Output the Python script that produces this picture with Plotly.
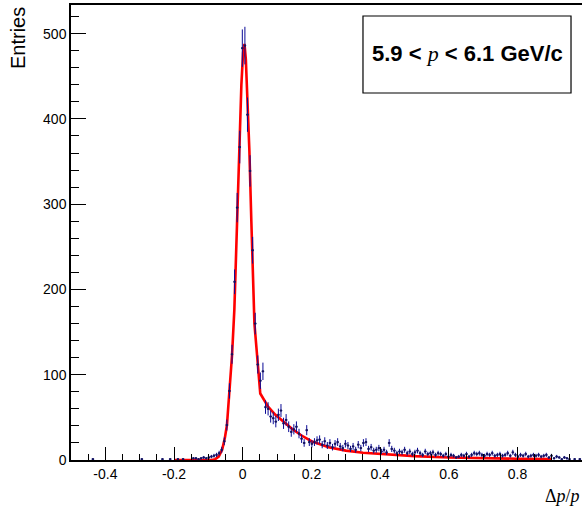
import math
import plotly.graph_objects as go

# Histogram: 200 bins from -0.5 to 1.0
hist_lo = -0.5
hist_hi = 1.0
n_bins = 200

counts_left = [0,0,0,0,0,0,0,0,1,0, 0,0,0,0,0,0,0,0,0,0,
               0,0,0,0,0,0,0,1,0,0, 0,0,0,0,0,1,0,0,1,0,
               0,1,0,1,0,0,0,2,2,1, 2,3,2]
counts_core = [3,4,5,6,8,12,22,41,81,124,
               209,296,367,483,486,405,339,246,160,112,
               93,104,62,60,51,49,45,53,58,43,
               47,39,33,36,39,31,25,20,35,21,
               19,21,23]
counts_tail = [24,18,22,17,20,15,19,21,16,14,19,17,
               13,16,12,18,14,20,21,13,15,11,12,14,
               10,12,9,20,13,11,8,10,9,12,8,10,
               7,9,11,8,6,10,7,8,9,6,8,7,
               5,7,4,6,5,3,4,6,5,7,4,6,
               8,7,8,6,5,7,6,8,5,6,7,5,
               6,8,5,9,6,4,6,5,7,4,5,6,
               5,6,4,5,6,3,5,2,4,3,1,3,
               2,1,0,1,0,1,0,0]

# Fit curve
fit_x = [-0.2, -0.09, -0.08, -0.07, -0.06, -0.052, -0.046, -0.038, -0.031, -0.0245,
         -0.017, -0.0099, -0.004, 0.001, 0.005, 0.009, 0.0146, 0.0193, 0.025, 0.031,
         0.034, 0.051, 0.073, 0.095, 0.12, 0.145, 0.17, 0.2, 0.25, 0.3,
         0.35, 0.4, 0.45, 0.5, 0.6, 0.7, 0.8, 0.9]
fit_y = [0, 0, 1, 4, 12, 26, 41, 80, 124, 176,
         275, 368, 440, 478, 488, 470, 420, 363, 280, 190,
         160, 78, 63, 53, 44, 36, 29, 22, 15, 11,
         8.5, 7, 5.5, 4.5, 3, 2, 1.5, 1]

x_tickvals = [-0.4, -0.2, 0, 0.2, 0.4, 0.6, 0.8]
x_ticktext = ["-0.4", "-0.2", "0", "0.2", "0.4", "0.6", "0.8"]
y_tickvals = [0, 100, 200, 300, 400, 500]
y_ticktext = ["0", "100", "200", "300", "400", "500"]

counts = counts_left + counts_core + counts_tail
bw = (hist_hi - hist_lo) / n_bins
xs, ys, es = [], [], []
for i, c in enumerate(counts):
    if c > 0:
        xs.append(hist_lo + bw * (i + 0.5))
        ys.append(c)
        es.append(math.sqrt(c))

data_col = "rgb(10,10,150)"
fig = go.Figure()
fig.add_trace(go.Scatter(
    x=fit_x, y=fit_y, mode="lines",
    line=dict(color="rgb(255,0,0)", width=2.6),
    showlegend=False, hoverinfo="skip"))
fig.add_trace(go.Scatter(
    x=xs, y=ys, mode="markers",
    marker=dict(color="rgb(20,20,90)", size=2, symbol="square"),
    error_y=dict(type="data", array=es, visible=True, color=data_col, thickness=1, width=0),
    error_x=dict(type="constant", value=bw / 2, visible=True, color=data_col, thickness=1, width=0),
    showlegend=False))

axis_font = dict(family="Liberation Sans, Arial, sans-serif", size=14, color="black")
fig.update_layout(
    width=582, height=512,
    margin=dict(l=71, r=0, t=5, b=52),
    plot_bgcolor="white", paper_bgcolor="white",
    xaxis=dict(range=[-0.5, 0.9876], showgrid=False, zeroline=False,
               showline=True, linecolor="black", linewidth=1.5, mirror=True,
               ticks="inside", ticklen=13, tickwidth=1, tickcolor="black",
               tickmode="array", tickvals=x_tickvals, ticktext=x_ticktext,
               minor=dict(ticks="inside", ticklen=6, dtick=0.05, tick0=0,
                          tickcolor="black", tickwidth=1, showgrid=False),
               tickfont=axis_font),
    yaxis=dict(range=[0, 533.6], showgrid=False, zeroline=False,
               showline=True, linecolor="black", linewidth=1.5, mirror=False,
               ticks="inside", ticklen=15, tickwidth=1, tickcolor="black",
               tickmode="array", tickvals=y_tickvals, ticktext=y_ticktext,
               minor=dict(ticks="inside", ticklen=8, dtick=20, tick0=0,
                          tickcolor="black", tickwidth=1, showgrid=False),
               tickfont=axis_font),
    shapes=[dict(type="rect", xref="paper", yref="paper",
                 x0=0.5714, x1=0.9785, y0=0.8066, y1=0.9758,
                 line=dict(color="black", width=1.2), fillcolor="white")],
    annotations=[
        dict(text="Entries", xref="paper", yref="paper", x=-0.1037, y=1.0,
             xanchor="center", yanchor="top", textangle=-90, showarrow=False,
             font=dict(family="Liberation Sans, Arial, sans-serif", size=20, color="black")),
        dict(text="Δ<i>p</i>/<i>p</i>", xref="paper", yref="paper", x=1.0, y=-0.079,
             xanchor="right", yanchor="middle", showarrow=False,
             font=dict(family="Liberation Serif, Times New Roman, serif", size=18, color="black")),
        dict(text="<b>5.9 &lt; </b><span style=\"font-family:'Liberation Serif'\"><i>p</i></span><b> &lt; 6.1 GeV/c</b>",
             xref="paper", yref="paper", x=0.775, y=0.8945,
             xanchor="center", yanchor="middle", showarrow=False,
             font=dict(family="Liberation Sans, Arial, sans-serif", size=22, color="black")),
    ],
)

fig.write_html("out.html",
               config={"displayModeBar": False},
               post_script="document.body.style.margin='0px';document.body.style.overflow='hidden';")
